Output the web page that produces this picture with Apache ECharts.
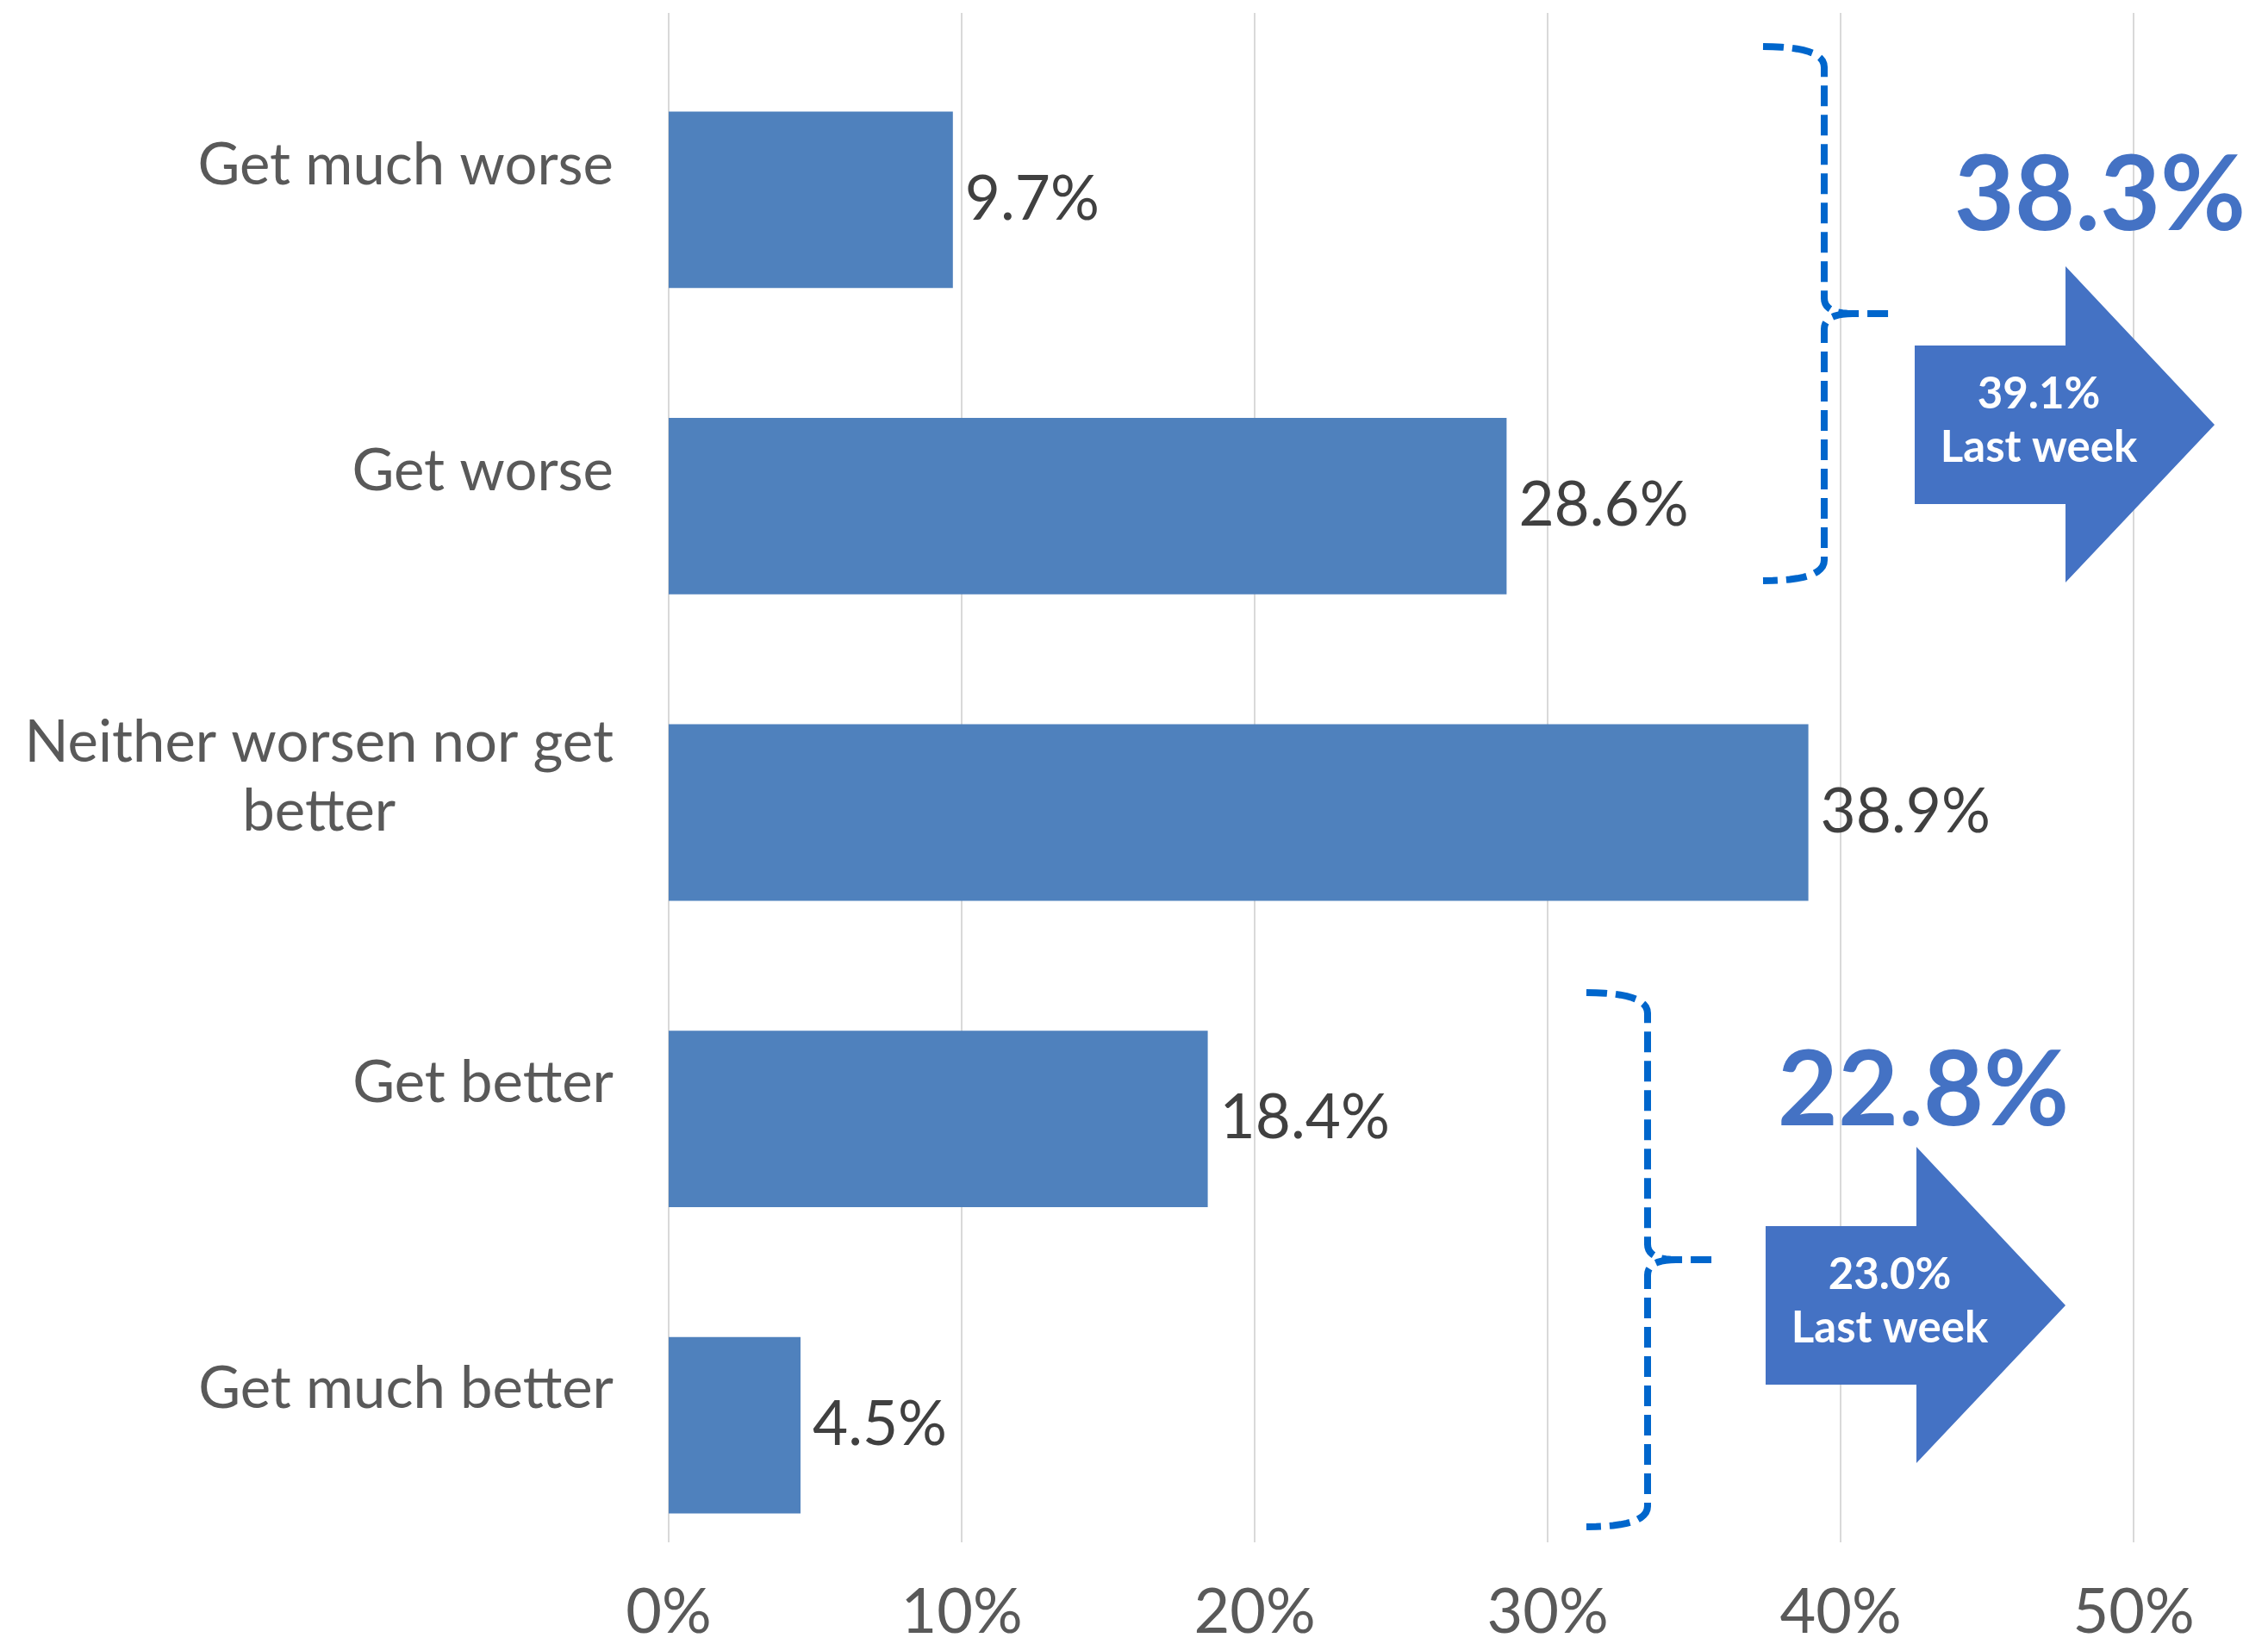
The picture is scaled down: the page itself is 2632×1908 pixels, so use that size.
<!DOCTYPE html>
<html>
<head>
<meta charset="utf-8">
<title>Expectations</title>
<script src="https://cdn.jsdelivr.net/npm/echarts@6/dist/echarts.min.js"></script>
<style>
  html, body { margin: 0; padding: 0; background: #ffffff; }
  #chart { width: 2632px; height: 1908px; }
</style>
</head>
<body>
<div id="chart"></div>
<script>
// ---- data ----
const categories = [
  'Get much worse',
  'Get worse',
  'Neither worsen nor get\nbetter',
  'Get better',
  'Get much better'
];
const shares = [9.7, 28.6, 38.9, 18.4, 4.5];
const xTicks = [0, 10, 20, 30, 40, 50];

// grouped totals: [worse side, better side]
const groupThisWeek = [38.3, 22.8];
const groupLastWeek = [39.1, 23.0];
const lastWeekCaption = 'Last week';

// ---- styling / layout ----
const FONT = 'Lato, "Open Sans", "DejaVu Sans", sans-serif';
const BAR_COLOR = '#4F81BD';
const CALLOUT_COLOR = '#4472C4';
const BRACE_COLOR = '#0066CC';
const GRID_LEFT = 776, GRID_RIGHT = 156;

// brace / arrow / headline placement for each group
const calloutLayout = [
  { brace: [2046, 54],   arrow: [2222, 309],  head: [2437, 228] },
  { brace: [1841, 1152], arrow: [2049, 1331], head: [2232, 1267] }
];

// quadratic curve sampled into points
function quad(p0, c, p1, n) {
  const pts = [];
  for (let i = 0; i <= n; i++) {
    const t = i / n, u = 1 - t;
    pts.push([u * u * p0[0] + 2 * u * t * c[0] + t * t * p1[0],
              u * u * p0[1] + 2 * u * t * c[1] + t * t * p1[1]]);
  }
  return pts;
}
// right curly brace in two strokes, relative to its top-left hook
const braceUpper = [].concat(
  quad([0, 0], [71, 0], [71, 24], 12),
  quad([71, 292], [71, 310], [104, 310], 10),
  [[146, 310]]
);
const braceLower = [].concat(
  quad([104, 310], [71, 310], [71, 328], 10),
  quad([71, 596], [71, 620], [0, 620], 12)
);
// block arrow pointing right
const arrowPoints = [[0, 92], [175, 92], [175, 0], [348, 184], [175, 367], [175, 276], [0, 276]];

// measure the longest line of a wrapped category so its lines can be centred
const measureCtx = document.createElement('canvas').getContext('2d');
measureCtx.font = '67px ' + FONT;
function blockWidth(text) {
  return Math.max.apply(null, text.split('\n').map(s => measureCtx.measureText(s).width));
}

const chart = echarts.init(document.getElementById('chart'), null, { renderer: 'canvas' });

const braceStyle = { fill: null, stroke: BRACE_COLOR, lineWidth: 8, lineDash: [24, 10] };
const graphics = [];
calloutLayout.forEach((pos, i) => {
  [braceUpper, braceLower].forEach(pts => {
    graphics.push({
      type: 'polyline',
      x: pos.brace[0], y: pos.brace[1],
      shape: { points: pts },
      style: braceStyle,
      z: 10
    });
  });
  graphics.push({
    type: 'polygon',
    x: pos.arrow[0], y: pos.arrow[1],
    shape: { points: arrowPoints },
    style: { fill: CALLOUT_COLOR },
    z: 10
  });
  graphics.push({
    type: 'text',
    x: pos.arrow[0] + 144, y: pos.arrow[1] + 180,
    style: {
      text: groupLastWeek[i].toFixed(1) + '%\n' + lastWeekCaption,
      fill: '#ffffff',
      font: 'bold 51px ' + FONT,
      lineHeight: 62,
      align: 'center',
      verticalAlign: 'middle'
    },
    z: 11
  });
  graphics.push({
    type: 'text',
    x: pos.head[0], y: pos.head[1],
    style: {
      text: groupThisWeek[i].toFixed(1) + '%',
      fill: CALLOUT_COLOR,
      font: 'bold 121px ' + FONT,
      align: 'center',
      verticalAlign: 'middle'
    },
    z: 11
  });
});

const option = {
  backgroundColor: '#ffffff',
  animation: false,
  grid: [
    // bars
    { left: GRID_LEFT, right: GRID_RIGHT, top: 54, height: 1778 },
    // gridlines, tick labels and category labels
    { left: GRID_LEFT, right: GRID_RIGHT, top: 15, height: 1777 }
  ],
  xAxis: [
    {
      gridIndex: 0, type: 'value',
      min: xTicks[0], max: xTicks[xTicks.length - 1], interval: xTicks[1] - xTicks[0],
      show: false
    },
    {
      gridIndex: 1, type: 'value',
      min: xTicks[0], max: xTicks[xTicks.length - 1], interval: xTicks[1] - xTicks[0],
      axisLine: { show: false },
      axisTick: { show: false },
      splitLine: { show: true, lineStyle: { color: '#D9D9D9', width: 2 } },
      axisLabel: {
        formatter: '{value}%',
        fontSize: 72, fontFamily: FONT, color: '#595959', margin: 46
      }
    }
  ],
  yAxis: [
    {
      gridIndex: 0, type: 'category', inverse: true, data: categories, show: false
    },
    {
      gridIndex: 1, type: 'category', inverse: true, data: categories,
      axisLine: { show: false },
      axisTick: { show: false },
      splitLine: { show: false },
      axisLabel: {
        margin: 64,
        fontSize: 67, fontFamily: FONT, color: '#595959', lineHeight: 80,
        formatter: function (value) {
          if (value.indexOf('\n') < 0) return value;
          return value.split('\n').map(s => '{c|' + s + '}').join('\n');
        },
        rich: {
          c: {
            width: blockWidth(categories[2]),
            align: 'center',
            fontSize: 67, fontFamily: FONT, color: '#595959', lineHeight: 80
          }
        }
      }
    }
  ],
  series: [
    {
      type: 'bar',
      xAxisIndex: 0, yAxisIndex: 0,
      data: shares,
      barCategoryGap: '42.4%',
      itemStyle: { color: BAR_COLOR },
      label: {
        show: true,
        position: 'right',
        distance: 14,
        formatter: p => p.value + '%',
        fontSize: 71, fontFamily: FONT, color: '#404040'
      }
    }
  ],
  graphic: graphics
};

chart.setOption(option);
</script>
</body>
</html>
